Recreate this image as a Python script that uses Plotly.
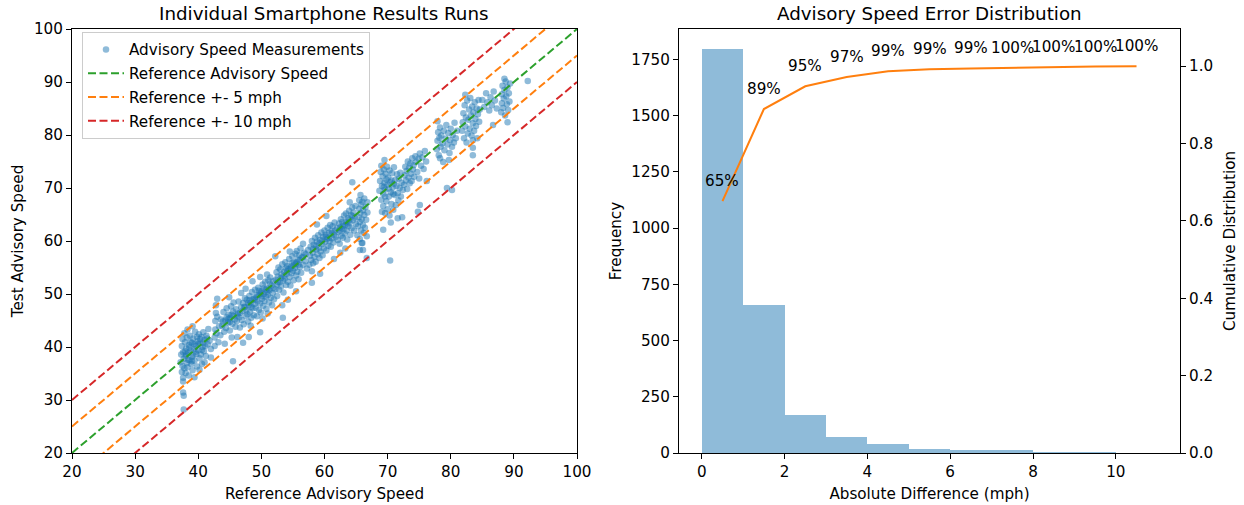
import plotly.graph_objects as go

# ---------------- Left panel data: (reference speed, test speed) ----------------
seg_37 = [(37.2,37.1),(37.3,38.6),(37.4,40.2),(37.4,35.3),(37.5,36.4),(37.5,41.5),(37.6,39.0),(37.6,34.2),
          (37.7,37.8),(37.8,42.6),(37.8,36.0),(37.9,40.9),(38.0,38.3),(38.0,35.1),(38.1,39.7),(38.2,37.0),
          (38.2,41.8),(38.3,36.2),(38.4,38.9),(38.5,40.4),(38.5,34.6),(38.6,37.5),(38.7,42.1),(38.8,39.3),
          (38.9,36.8),(39.0,40.8),(39.0,38.1),(39.1,35.6),(39.2,41.6),(39.3,39.6),(39.4,37.4),(39.5,42.9),
          (39.6,40.2),(39.7,38.7),(39.8,36.3),(39.9,41.1),(40.0,39.4),(40.1,42.4),(40.2,37.9),(40.3,40.7),
          (40.4,38.6),(40.5,41.9),(40.6,36.8),(40.7,40.0),(40.8,42.8),(40.9,39.2),(41.0,41.3),(41.2,38.3),
          (41.3,42.1),(41.5,40.5),(41.6,43.4),(41.8,41.2),(42.0,39.6),(38.3,43.3),(39.1,43.9),(41.0,37.1),
          (40.2,35.7),(37.6,33.5),(39.4,34.3),(42.0,38.0),(37.6,31.4),(37.7,30.8),(37.7,28.2),
          (38.1,38.6),(38.6,39.9),(39.2,38.4),(39.6,39.1),(40.0,40.6),(40.6,39.5),(41.1,40.2),(39.0,37.3),
          (38.4,37.6),(40.3,41.5),(41.4,41.6),(39.8,41.9),(37.9,39.2),(38.8,40.9),(40.8,40.8),(39.4,40.5)]
seg_43 = [(42.6,40.2),(42.6,41.8),(42.7,43.3),(42.7,44.9),(42.8,46.4),(42.8,47.9),(42.9,42.6),(43.0,45.7),
          (43.2,40.9),(43.3,43.9),(43.5,42.2),(43.6,45.2),(43.8,44.0),(44.0,46.6),(44.1,42.9),(44.3,45.0),
          (44.4,43.6),(44.5,47.3),(44.7,44.6),(44.8,46.1),(45.0,43.1),(45.1,45.5),(45.2,47.7),(45.4,44.4),
          (45.5,46.7),(45.6,48.4),(45.8,45.2),(45.9,43.8),(46.0,47.1),(46.1,44.9),(46.3,46.3),(46.4,48.6),
          (46.5,45.6),(46.6,43.7),(46.8,47.5),(44.2,40.6),(45.3,41.8),(43.0,49.1),(44.9,49.4),(46.2,41.9),
          (45.5,37.3),(47.1,40.8),(48.0,41.9),
          (43.9,44.8),(44.5,45.6),(45.0,44.7),(45.6,45.9),(46.2,46.0),(44.8,45.3),(45.3,46.1),(46.6,46.4)]
seg_48 = [(46.9,45.1),(47.0,46.8),(47.1,48.3),(47.2,44.3),(47.3,47.6),(47.4,49.2),(47.5,45.9),(47.6,47.0),
          (47.7,48.9),(47.8,46.2),(47.9,44.8),(48.0,47.9),(48.1,49.6),(48.2,46.6),(48.3,48.4),(48.4,45.5),
          (48.5,50.4),(48.6,47.3),(48.7,49.0),(48.8,46.0),(48.9,48.1),(49.0,50.8),(49.1,47.4),(49.2,49.5),
          (49.3,45.8),(49.4,48.6),(49.5,51.2),(49.6,47.0),(49.7,49.9),(49.8,48.2),(49.9,46.5),(50.0,50.5),
          (50.1,49.1),(50.2,51.8),(50.3,47.8),(50.4,50.0),(50.5,48.7),(50.6,52.3),(50.7,49.5),(50.8,47.2),
          (50.9,51.1),(51.0,49.8),(51.1,52.6),(51.2,48.4),(51.3,50.7),(51.4,53.1),(51.5,49.3),(51.6,51.6),
          (51.7,47.9),(51.8,50.2),(51.9,52.4),(52.0,49.0),(47.5,51.0),(48.6,52.4),(49.8,53.2),(48.3,44.0),
          (50.2,45.4),(51.0,46.3),(49.8,42.8),(50.9,53.7),(46.8,50.2),
          (47.4,47.5),(47.9,48.3),(48.4,47.6),(48.9,49.2),(49.4,49.8),(49.9,50.2),(50.4,51.1),(50.9,50.4),
          (51.4,51.9),(51.9,51.2),(48.1,48.8),(49.0,48.9),(50.0,49.6),(51.2,50.9),(49.6,50.6),(50.7,50.8)]
seg_54 = [(52.2,50.9),(52.3,52.7),(52.4,54.1),(52.5,49.6),(52.5,51.8),(52.6,53.3),(52.7,55.0),(52.8,50.8),
          (52.9,52.2),(53.0,54.6),(53.1,51.4),(53.2,53.7),(53.3,55.6),(53.4,52.5),(53.5,50.3),(53.6,54.2),
          (53.7,52.9),(53.8,56.0),(53.9,51.7),(54.0,53.8),(54.1,55.3),(54.2,52.3),(54.3,54.7),(54.4,56.6),
          (54.5,53.2),(54.6,51.6),(54.7,55.2),(54.8,53.9),(54.9,57.1),(55.0,54.4),(55.1,52.6),(55.2,56.0),
          (55.3,54.9),(55.4,57.6),(55.5,53.5),(55.5,55.7),(55.6,58.1),(55.7,54.2),(55.8,56.5),(55.9,52.8),
          (56.0,57.3),(56.1,55.1),(56.2,58.6),(56.3,54.0),(56.4,56.9),(56.6,55.5),(56.8,57.8),(57.0,56.2),
          (57.2,54.8),(57.4,58.3),(53.3,47.9),(54.2,48.9),(52.2,57.1),(54.5,58.0),(55.5,50.5),(56.6,59.5),
          (53.4,45.5),
          (52.6,52.2),(53.1,53.0),(53.6,53.4),(54.1,54.3),(54.6,54.8),(55.1,55.4),(55.6,56.0),(56.1,56.4),
          (56.6,57.0),(57.0,57.5),(53.9,54.9),(54.9,55.9),(55.9,55.5)]
seg_59 = [(57.6,55.5),(57.7,57.2),(57.8,58.9),(57.9,56.4),(58.0,54.3),(58.0,60.0),(58.1,57.8),(58.2,55.8),
          (58.3,59.3),(58.4,57.0),(58.5,60.6),(58.6,56.1),(58.7,58.4),(58.8,59.9),(58.9,57.5),(59.0,61.1),
          (59.1,58.7),(59.2,56.8),(59.3,60.2),(59.4,58.0),(59.5,61.6),(59.6,59.4),(59.7,57.3),(59.8,60.8),
          (59.9,58.6),(60.0,62.0),(60.1,59.8),(60.2,61.2),(60.3,58.2),(60.4,60.4),(60.5,62.5),(60.6,59.1),
          (60.7,61.5),(60.8,60.0),(60.9,63.0),(61.0,58.9),(61.1,61.9),(61.2,60.5),(61.3,62.8),(61.4,59.7),
          (61.5,61.2),(61.6,63.5),(61.8,60.8),(62.0,62.4),(58.0,52.1),(59.3,53.8),(61.5,56.6),(58.8,63.1),
          (60.3,64.7),
          (58.2,58.5),(58.7,59.1),(59.2,59.6),(59.7,60.1),(60.2,60.8),(60.7,60.6),(61.2,61.5),(61.7,62.0)]
seg_63 = [(62.1,60.2),(62.2,61.7),(62.3,63.3),(62.4,59.5),(62.5,62.6),(62.6,64.1),(62.7,61.0),(62.8,63.6),
          (62.9,60.6),(63.0,62.2),(63.1,64.8),(63.2,61.4),(63.3,63.0),(63.4,65.2),(63.5,62.0),(63.6,60.3),
          (63.7,64.3),(63.8,62.8),(63.9,65.7),(64.0,63.5),(64.1,61.2),(64.2,64.9),(64.3,62.4),(64.4,66.3),
          (64.5,63.9),(64.6,65.4),(64.7,62.0),(64.8,64.4),(64.9,66.6),(65.0,63.2),(62.5,57.8),(63.3,58.6),
          (64.0,67.3),(64.4,71.1),
          (62.4,62.0),(62.9,62.9),(63.4,63.6),(63.9,64.0),(64.4,64.7),(62.7,62.4),(63.6,63.3)]
seg_66 = [(65.2,61.1),(65.3,62.8),(65.4,64.5),(65.5,66.1),(65.5,67.7),(65.6,60.4),(65.6,63.6),(65.7,65.3),
          (65.7,68.7),(65.8,62.0),(65.8,66.9),(65.9,64.1),(66.0,59.6),(66.0,67.4),(66.1,63.0),(66.1,65.8),
          (66.2,61.5),(66.3,64.9),(66.3,68.0),(66.4,62.5),(66.5,66.4),(66.6,64.0),(66.7,60.9),(66.8,65.4),
          (65.6,58.3),(65.9,59.6),(66.1,58.3),(66.7,56.8),(66.8,67.3)]
seg_70 = [(68.7,69.5),(68.8,71.3),(68.9,73.0),(69.0,67.8),(69.0,74.2),(69.1,70.4),(69.2,72.2),(69.3,66.6),
          (69.3,68.9),(69.4,73.5),(69.5,71.0),(69.6,65.3),(69.6,69.7),(69.7,72.7),(69.8,67.5),(69.9,74.0),
          (70.0,70.6),(70.0,66.0),(70.1,72.0),(70.2,68.4),(70.3,73.3),(70.3,64.8),(70.4,71.1),(70.5,69.2),
          (70.6,67.0),(70.7,72.8),(70.8,70.1),(70.9,65.9),(71.0,73.9),(71.1,68.7),(71.2,71.5),(71.3,66.8),
          (71.4,70.4),(71.5,72.6),(71.6,69.0),(71.7,67.7),(71.8,71.8),(71.9,70.0),(72.0,72.9),(72.1,68.4),
          (72.2,71.0),(72.4,69.6),(69.1,65.5),(69.3,62.1),(70.4,56.3),(71.6,64.3),(72.3,64.5),(69.5,75.3),
          (70.5,63.5),
          (69.4,70.2),(69.8,71.6),(70.2,69.9),(70.6,71.4),(71.0,70.8),(69.6,68.4),(70.9,68.9)]
seg_74 = [(72.6,70.6),(72.7,72.4),(72.8,74.0),(72.9,71.4),(73.0,73.2),(73.1,69.8),(73.2,75.0),(73.3,72.0),
          (73.4,73.8),(73.5,70.9),(73.6,74.6),(73.7,72.7),(73.8,71.3),(73.9,75.6),(74.0,73.5),(74.1,74.3),
          (74.2,72.1),(74.4,76.0),(74.5,74.9),(74.7,73.0),(74.9,75.5),(75.0,71.8),(75.1,76.5),(75.3,74.2),
          (75.5,75.8),(75.7,73.6),(75.9,77.0),(76.1,75.0),(74.8,65.5),(75.1,66.8),(76.2,71.3)]
seg_79 = [(77.8,77.3),(77.9,78.9),(78.0,80.5),(78.1,76.2),(78.2,79.5),(78.3,81.4),(78.4,77.8),(78.5,79.9),
          (78.7,78.4),(78.8,74.9),(78.9,80.8),(79.0,77.1),(79.2,79.3),(79.3,81.9),(79.5,78.2),(79.6,80.4),
          (79.8,76.6),(79.9,79.0),(80.0,81.2),(80.2,77.8),(80.3,80.0),(80.5,78.6),(80.6,82.3),(80.8,79.4),
          (81.0,80.8),(78.3,75.6),(79.7,75.3),(79.4,70.0),(80.2,69.6),(77.9,82.6)]
seg_83 = [(81.8,80.8),(81.9,82.4),(82.0,84.1),(82.1,79.4),(82.2,85.6),(82.3,81.6),(82.4,83.3),(82.5,78.6),
          (82.6,86.5),(82.7,80.3),(82.8,82.9),(82.9,84.8),(83.0,81.2),(83.1,87.0),(83.2,83.7),(83.3,79.9),
          (83.4,85.4),(83.5,82.2),(83.5,77.6),(83.6,84.3),(83.7,80.8),(83.8,86.2),(83.9,83.0),(84.0,81.7),
          (84.1,85.0),(84.2,79.4),(84.3,83.9),(84.4,86.6),(84.5,82.5),(84.6,84.8),(83.5,76.2),(83.5,79.0),
          (82.3,87.6)]
seg_88 = [(85.0,86.6),(85.3,85.3),(85.6,87.9),(85.8,86.2),(86.1,84.6),(86.3,87.1),(86.5,85.6),(86.7,81.9),
          (86.8,88.2),(87.0,86.5),(87.3,85.0),(88.0,84.3),(88.1,86.0),(88.1,87.7),(88.2,89.3),(88.3,85.1),
          (88.4,86.9),(88.5,88.5),(88.6,83.7),(88.7,90.1),(88.8,87.3),(88.9,85.8),(89.0,89.0),(89.1,84.7),
          (89.2,87.9),(89.3,86.3),(89.4,89.7),(89.0,82.4),(88.5,90.6),(92.2,90.2)]

segments = [seg_37, seg_43, seg_48, seg_54, seg_59, seg_63, seg_66, seg_70, seg_74, seg_79, seg_83, seg_88]
ref_speed = [p[0] for s in segments for p in s]
test_speed = [p[1] for s in segments for p in s]

axis_span = [20, 100]
band_offsets = {"Reference +- 5 mph": (5, "#ff7f0e"), "Reference +- 10 mph": (10, "#d62728")}

# ---------------- Right panel data ----------------
bin_edges = [0, 1, 2, 3, 4, 5, 6, 7, 8, 9, 10, 11]
bin_counts = [1795, 660, 167, 69, 40, 19, 12, 12, 6, 6, 0]
cum_x = [0.5, 1.5, 2.5, 3.5, 4.5, 5.5, 6.5, 7.5, 8.5, 9.5, 10.5]
cum_share = [0.651, 0.889, 0.948, 0.972, 0.987, 0.992, 0.994, 0.996, 0.998, 0.999, 1.0]

FONT = "DejaVu Sans"
FS = 15.2
BLUE = "#1f77b4"
W, H = 1244, 505


def px_x(p):
    return p / W


def px_y(p):
    return 1 - p / H


fig = go.Figure()

fig.add_trace(go.Scatter(
    x=ref_speed, y=test_speed, mode="markers", name="Advisory Speed Measurements",
    legendgroup="a",
    marker=dict(color=BLUE, size=6.5, opacity=0.5, line=dict(width=0)),
    xaxis="x", yaxis="y"))

dash = "8px,3.5px"
fig.add_trace(go.Scatter(
    x=axis_span, y=axis_span, mode="lines", name="Reference Advisory Speed", legendgroup="b",
    line=dict(color="#2ca02c", width=2, dash=dash), xaxis="x", yaxis="y"))
for i, (name, (off, col)) in enumerate(band_offsets.items()):
    xs = [axis_span[0], axis_span[1], None, axis_span[0], axis_span[1]]
    ys = [axis_span[0] + off, axis_span[1] + off, None, axis_span[0] - off, axis_span[1] - off]
    fig.add_trace(go.Scatter(x=xs, y=ys, mode="lines", name=name, legendgroup=f"c{i}",
                             line=dict(color=col, width=2, dash=dash), xaxis="x", yaxis="y"))

centers = [(bin_edges[i] + bin_edges[i + 1]) / 2 for i in range(len(bin_counts))]
widths = [bin_edges[i + 1] - bin_edges[i] for i in range(len(bin_counts))]
fig.add_trace(go.Bar(x=centers, y=bin_counts, width=widths,
                     marker=dict(color="rgba(31,119,180,0.5)", line=dict(width=0)),
                     showlegend=False, xaxis="x2", yaxis="y2"))
fig.add_trace(go.Scatter(x=cum_x, y=cum_share, mode="lines",
                         line=dict(color="#ff7f0e", width=2),
                         showlegend=False, xaxis="x2", yaxis="y3"))

annotations = []
for xv, yv in zip(cum_x, cum_share):
    annotations.append(dict(x=xv, y=yv, xref="x2", yref="y3", text=f"{yv:.0%}", showarrow=False,
                            xanchor="center", yshift=20, font=dict(family=FONT, size=FS, color="black")))

dom_left = [px_x(72), px_x(577)]
dom_right = [px_x(679), px_x(1180)]
dom_y = [px_y(453), px_y(29)]

annotations.append(dict(text="Individual Smartphone Results Runs", x=sum(dom_left) / 2, y=px_y(13),
                        xref="paper", yref="paper", showarrow=False, xanchor="center", yanchor="middle",
                        font=dict(family=FONT, size=18.3, color="black")))
annotations.append(dict(text="Advisory Speed Error Distribution", x=sum(dom_right) / 2, y=px_y(13),
                        xref="paper", yref="paper", showarrow=False, xanchor="center", yanchor="middle",
                        font=dict(family=FONT, size=18.3, color="black")))

axis_common = dict(showline=True, linecolor="black", linewidth=1, ticks="outside", ticklen=5,
                   tickcolor="black", showgrid=False, zeroline=False, automargin=False,
                   tickfont=dict(family=FONT, size=FS, color="black"),
                   title_font=dict(family=FONT, size=FS, color="black"))

fig.update_layout(
    width=W, height=H, margin=dict(l=0, r=0, t=0, b=0, autoexpand=False),
    paper_bgcolor="white", plot_bgcolor="white",
    font=dict(family=FONT, size=FS, color="black"),
    showlegend=True,
    legend=dict(x=px_x(82), y=px_y(32), xanchor="left", yanchor="top",
                traceorder="grouped", tracegroupgap=1, itemwidth=36,
                bgcolor="rgba(255,255,255,0.8)", bordercolor="#cccccc", borderwidth=1,
                font=dict(family=FONT, size=FS, color="black")),
    xaxis=dict(domain=dom_left, range=[20, 100], dtick=10, anchor="y", mirror=True,
               title=dict(text="Reference Advisory Speed", standoff=8), **axis_common),
    yaxis=dict(domain=dom_y, range=[20, 100], dtick=10, anchor="x", mirror=True,
               title=dict(text="Test Advisory Speed", standoff=6), **axis_common),
    xaxis2=dict(domain=dom_right, range=[-0.55, 11.55], tickvals=[0, 2, 4, 6, 8, 10], anchor="y2",
                mirror=True, title=dict(text="Absolute Difference (mph)", standoff=8), **axis_common),
    yaxis2=dict(domain=dom_y, range=[0, 1885], dtick=250, anchor="x2",
                title=dict(text="Frequency", standoff=5), **axis_common),
    yaxis3=dict(domain=dom_y, range=[0, 1.096], tickvals=[0, 0.2, 0.4, 0.6, 0.8, 1.0], tickformat=".1f",
                overlaying="y2", side="right", anchor="x2",
                title=dict(text="Cumulative Distribution", standoff=12), **axis_common),
    annotations=annotations,
    bargap=0,
)

# remove the browser's default page margin so the figure fills the window exactly
fig.write_html("out.html", config={"displayModeBar": False},
               post_script="document.body.style.margin='0';")
